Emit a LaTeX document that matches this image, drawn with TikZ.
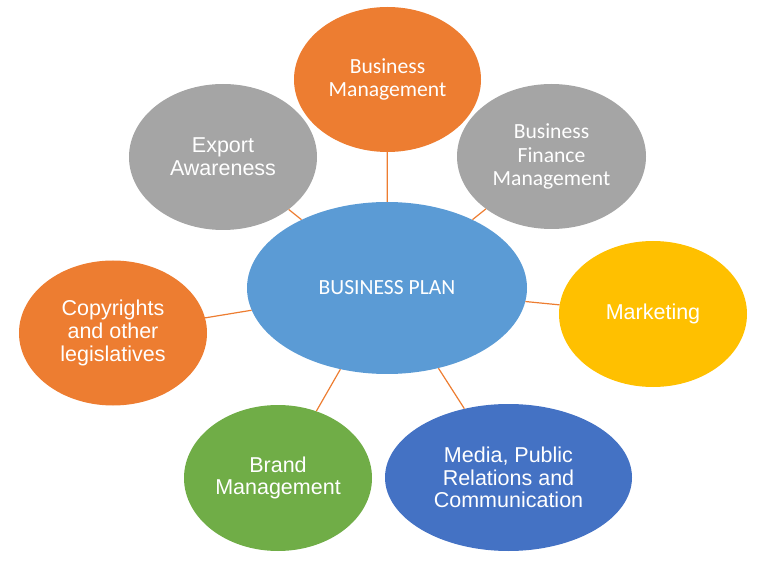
\documentclass[tikz,border=0pt]{standalone}
\usepackage{fontspec}
\setmainfont{Liberation Sans}
\newfontfamily\calibrifont{Carlito}
\usepackage{tikz}
\usetikzlibrary{shapes.geometric}

\definecolor{planblue}{HTML}{5B9BD5}
\definecolor{pptorange}{HTML}{ED7D31}
\definecolor{pptgray}{HTML}{A5A5A5}
\definecolor{pptyellow}{HTML}{FFC000}
\definecolor{pptblue}{HTML}{4472C4}
\definecolor{pptgreen}{HTML}{70AD47}

\tikzset{
  bubble/.style={ellipse, inner sep=0pt, text=white, align=center,
    minimum width=188pt, minimum height=146pt,
    font=\fontsize{21.5}{22.7}\selectfont},
  calbubble/.style={bubble, font=\calibrifont\fontsize{21.6}{23.8}\selectfont},
  link/.style={draw=pptorange, line width=1.2pt}
}

\begin{document}
\begin{tikzpicture}[x=1pt, y=-1pt]
                  \useasboundingbox (0,0) rectangle (766,561);

                  % Draw centre ellipse
                  \node[calbubble, fill=planblue, minimum width=280pt, minimum height=172pt] (plan) at (387,288) {BUSINESS PLAN};

                  % Draw outer ellipses
                  \node[calbubble, fill=pptorange, minimum width=187pt, minimum height=145pt] (bizman) at (387.5,79.5) {Business\\Management};
                  \node[bubble, fill=pptgray] (export) at (223,157) {Export\\Awareness};
                  \node[calbubble, fill=pptgray, minimum width=189pt, minimum height=145pt] (finance) at (551.5,156.5) {Business\\Finance\\Management};
                  \node[bubble, fill=pptyellow] (marketing) at (653,314) {Marketing};
                  \node[bubble, fill=pptblue, minimum width=247pt, minimum height=147pt] (media) at (508.5,477.5) {Media, Public\\Relations and\\Communication};
                  \node[bubble, fill=pptgreen] (brand) at (278,478) {Brand\\Management};
                  \node[bubble, fill=pptorange, minimum height=145pt] (copyrights) at (113,333) {Copyrights\\and other\\legislatives};

                  % Draw links
                  \draw[link] (plan) -- (bizman);
                  \draw[link] (plan) -- (export);
                  \draw[link] (plan) -- (finance);
                  \draw[link] (plan) -- (marketing);
                  \draw[link] (plan) -- (media);
                  \draw[link] (plan) -- (brand);
                  \draw[link] (plan) -- (copyrights);

              \end{tikzpicture}
\end{document}
